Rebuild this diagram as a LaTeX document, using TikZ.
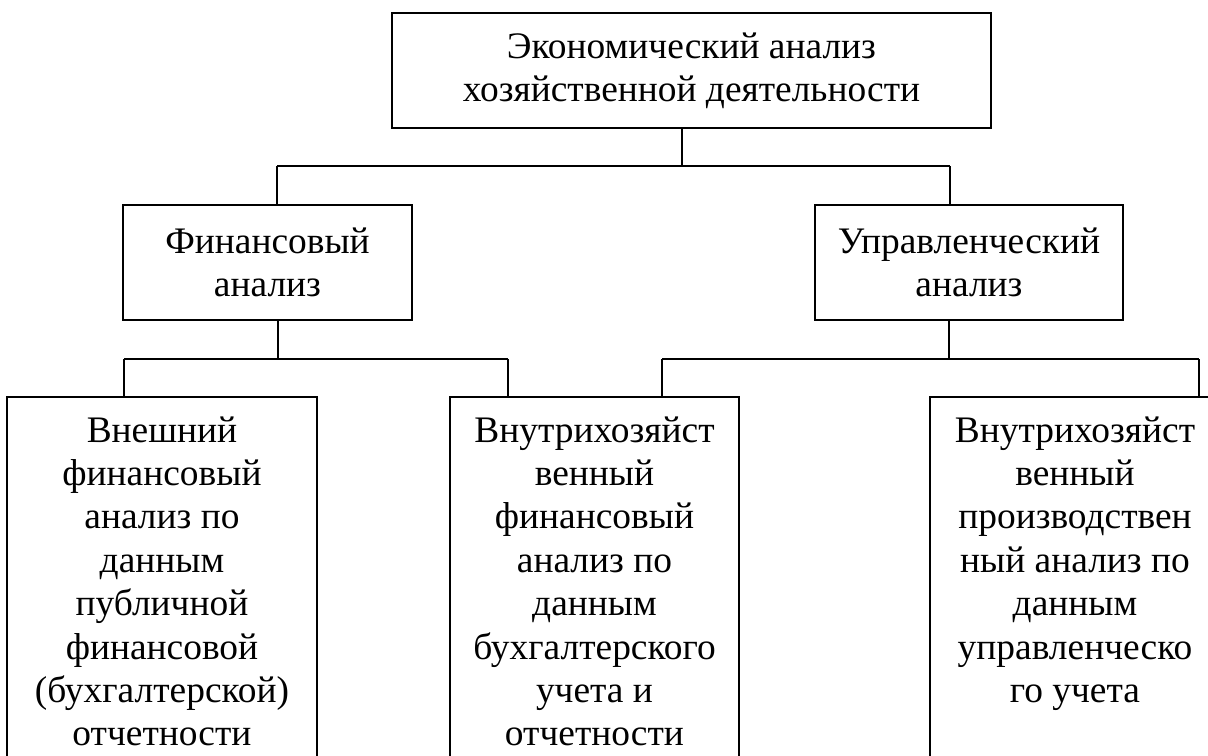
\documentclass[tikz,border=0pt]{standalone}
\usepackage{fontspec}
\setmainfont{Liberation Serif}

\begin{document}
\begin{tikzpicture}[x=0.02cm, y=-0.02cm, line width=1.1pt,
    txt/.style={font=\fontsize{21.3}{24.4}\selectfont, align=center},
    box/.style={txt, draw, minimum height=2.3cm},
    leaf/.style={txt, font=\fontsize{21.3}{24.7}\selectfont, anchor=north, inner ysep=0.37cm}]
  \useasboundingbox (0,0) rectangle (1208,755);
  \clip (0,0) rectangle (1208,755);

  \node[box, minimum width=11.98cm] (econ) at (691.5,70.5)
    {Экономический анализ\\хозяйственной деятельности};
  \node[box, minimum width=5.78cm] (fin) at (267.5,262.5) {Финансовый\\анализ};
  \node[box, minimum width=6.16cm] (mgmt) at (969,262.5) {Управленческий\\анализ};

  \node[leaf, minimum width=6.16cm] (extA) at (162,397)
    {Внешний\\финансовый\\анализ по\\данным\\публичной\\финансовой\\(бухгалтерской)\\отчетности};
  \node[leaf, minimum width=5.74cm] (extB) at (594.5,397)
    {Внутрихозяйст\\венный\\финансовый\\анализ по\\данным\\бухгалтерского\\учета и\\отчетности};
  \node[leaf, minimum width=5.76cm] (extC) at (1075,397)
    {Внутрихозяйст\\венный\\производствен\\ный анализ по\\данным\\управленческо\\го учета};
  \foreach \n in {extA,extB,extC}
    \draw ([yshift=-3cm]\n.south west) -- (\n.north west) -- (\n.north east) -- ([yshift=-3cm]\n.south east);

  \coordinate (busTop) at (682,166);
  \coordinate (finIn) at (277,166);
  \coordinate (mgmtIn) at (950,166);
  \draw (econ.south -| busTop) -- (busTop);
  \draw (finIn) -- (mgmtIn);
  \draw (finIn) -- (finIn |- fin.north);
  \draw (mgmtIn) -- (mgmtIn |- mgmt.north);

  \coordinate (finOut) at (278,359);
  \coordinate (mgmtOut) at (949,359);
  \coordinate (aIn) at (124,359);
  \coordinate (bInL) at (508,359);
  \coordinate (bInR) at (662,359);
  \coordinate (cIn) at (1199,359);
  \draw (fin.south -| finOut) -- (finOut);
  \draw (mgmt.south -| mgmtOut) -- (mgmtOut);
  \draw (aIn) -- (bInL);
  \draw (bInR) -- (cIn);
  \draw (aIn) -- (aIn |- extA.north);
  \draw (bInL) -- (bInL |- extB.north);
  \draw (bInR) -- (bInR |- extB.north);
  \draw (cIn) -- (cIn |- extC.north);
\end{tikzpicture}
\end{document}
